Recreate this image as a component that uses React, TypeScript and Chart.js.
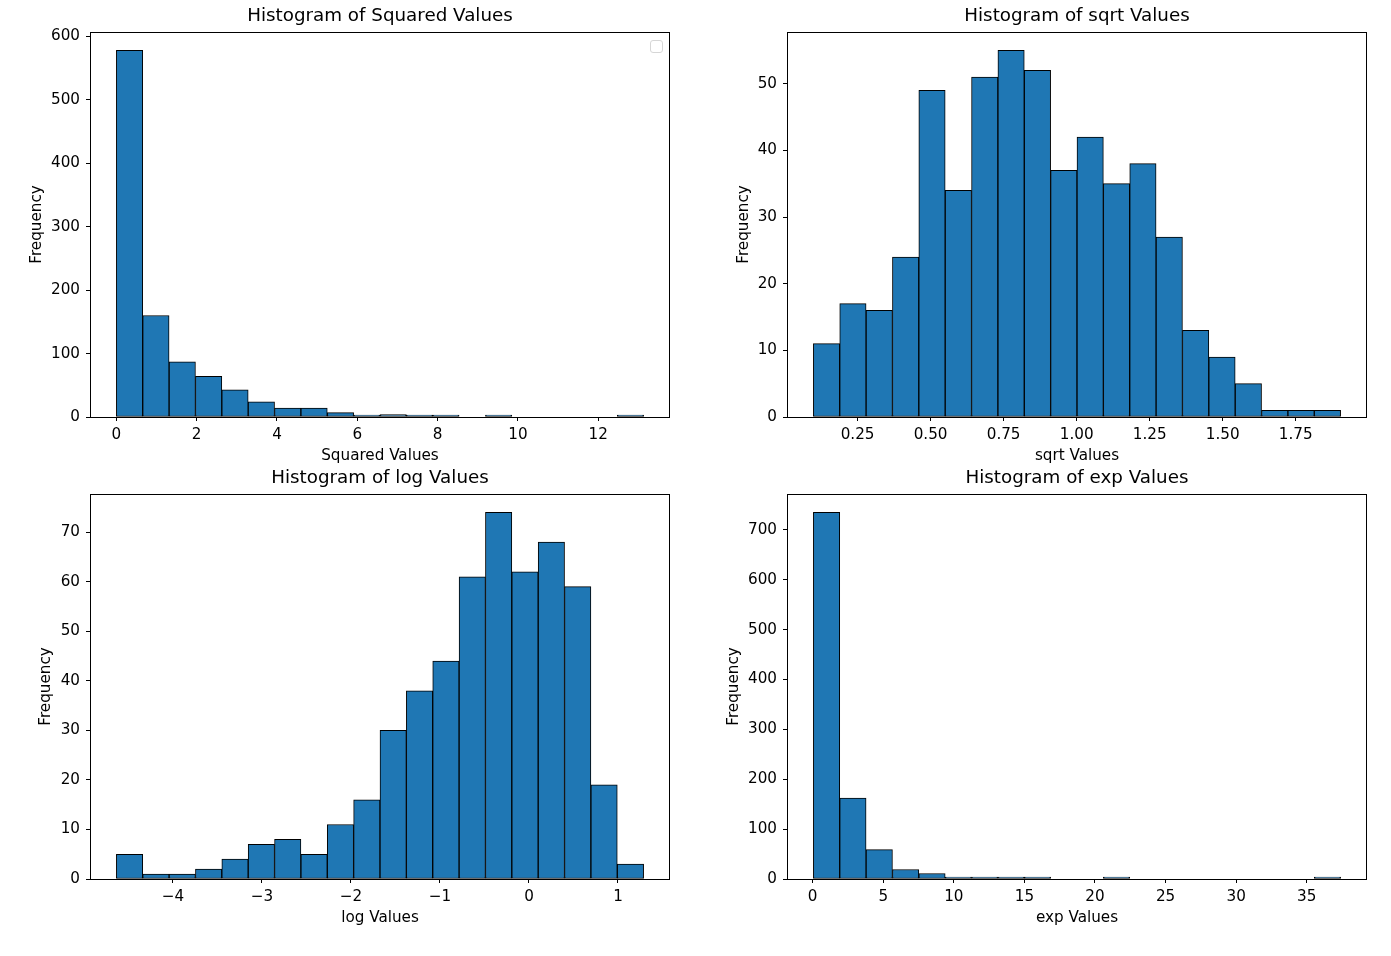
import React, { useEffect, useRef } from "react";
import { Chart, registerables } from "chart.js";

Chart.register(...registerables);

const FONT = "'DejaVu Sans', 'Liberation Sans', sans-serif";
const BAR_COLOR = "#1f77b4";
const TICK_SIZE = 15.2;
const TITLE_SIZE = 18.3;

// ---- data (20 bins each) ----
const squaredRange = [0, 13.13];
const squaredCounts = [578, 160, 87, 64, 43, 24, 14, 14, 7, 2, 4, 1, 1, 0, 1, 0, 0, 0, 0, 1];
const squaredXTicks = [0, 2, 4, 6, 8, 10, 12];
const squaredYTicks = [0, 100, 200, 300, 400, 500, 600];

const sqrtRange = [0.0985, 1.904];
const sqrtCounts = [11, 17, 16, 24, 49, 34, 51, 55, 52, 37, 42, 35, 38, 27, 13, 9, 5, 1, 1, 1];
const sqrtXTicks = [0.25, 0.5, 0.75, 1.0, 1.25, 1.5, 1.75];
const sqrtYTicks = [0, 10, 20, 30, 40, 50];

const logRange = [-4.635, 1.288];
const logCounts = [5, 1, 1, 2, 4, 7, 8, 5, 11, 16, 30, 38, 44, 61, 74, 62, 68, 59, 19, 3];
const logXTicks = [-4, -3, -2, -1, 0, 1];
const logYTicks = [0, 10, 20, 30, 40, 50, 60, 70];

const expRange = [0.05, 37.4];
const expCounts = [735, 162, 59, 19, 11, 4, 4, 2, 2, 0, 0, 1, 0, 0, 0, 0, 0, 0, 0, 1];
const expXTicks = [0, 5, 10, 15, 20, 25, 30, 35];
const expYTicks = [0, 100, 200, 300, 400, 500, 600, 700];

type PanelDef = {
  title: string;
  xLabel: string;
  range: number[];
  counts: number[];
  xTicks: number[];
  yTicks: number[];
  decimals: number;
  legendBox: boolean;
  left: number;
  top: number;
  yTitleX: number;
};

const panels: PanelDef[] = [
  { title: "Histogram of Squared Values", xLabel: "Squared Values", range: squaredRange, counts: squaredCounts, xTicks: squaredXTicks, yTicks: squaredYTicks, decimals: 0, legendBox: true, left: 0, top: 0, yTitleX: 35 },
  { title: "Histogram of sqrt Values", xLabel: "sqrt Values", range: sqrtRange, counts: sqrtCounts, xTicks: sqrtXTicks, yTicks: sqrtYTicks, decimals: 2, legendBox: false, left: 697, top: 0, yTitleX: 45 },
  { title: "Histogram of log Values", xLabel: "log Values", range: logRange, counts: logCounts, xTicks: logXTicks, yTicks: logYTicks, decimals: 0, legendBox: false, left: 0, top: 462, yTitleX: 44 },
  { title: "Histogram of exp Values", xLabel: "exp Values", range: expRange, counts: expCounts, xTicks: expXTicks, yTicks: expYTicks, decimals: 0, legendBox: false, left: 697, top: 462, yTitleX: 35 },
];

const CW = 690;
const CH = 470;
const AX_LEFT = 90;
const AX_TOP = 32;
const AX_BOTTOM = 417;
const AX_RIGHT = 670;

function fmt(v: number, decimals: number): string {
  const s = Math.abs(v).toFixed(decimals);
  return v < 0 ? "\u2212" + s : s;
}

const framePlugin = {
  id: "frame",
  afterDraw(chart: any) {
    const { ctx, chartArea } = chart;
    ctx.save();
    ctx.strokeStyle = "#000";
    ctx.lineWidth = 1;
    ctx.strokeRect(
      Math.round(chartArea.left) + 0.5,
      Math.round(chartArea.top) + 0.5,
      Math.round(chartArea.right - chartArea.left) - 1,
      Math.round(chartArea.bottom - chartArea.top)
    );
    const opts = chart.options.plugins.frame || {};
    if (opts.legendBox) {
      const w = 12, h = 12, r = 2.5;
      const x = chartArea.right - 7.5 - w;
      const y = chartArea.top + 8.5;
      ctx.beginPath();
      ctx.moveTo(x + r, y);
      ctx.lineTo(x + w - r, y);
      ctx.quadraticCurveTo(x + w, y, x + w, y + r);
      ctx.lineTo(x + w, y + h - r);
      ctx.quadraticCurveTo(x + w, y + h, x + w - r, y + h);
      ctx.lineTo(x + r, y + h);
      ctx.quadraticCurveTo(x, y + h, x, y + h - r);
      ctx.lineTo(x, y + r);
      ctx.quadraticCurveTo(x, y, x + r, y);
      ctx.closePath();
      ctx.fillStyle = "rgba(255,255,255,0.8)";
      ctx.fill();
      ctx.strokeStyle = "#d6d6d6";
      ctx.stroke();
    }
    ctx.restore();
  },
};

function HistPanel({ p }: { p: PanelDef }) {
  const ref = useRef<HTMLCanvasElement | null>(null);
  useEffect(() => {
    if (!ref.current) return;
    const [lo, hi] = p.range;
    const w = (hi - lo) / p.counts.length;
    // empty bins are not drawn (as in the reference)
    const data = p.counts.map((c, i) => ({ x: lo + (i + 0.5) * w, y: c === 0 ? null : c }));
    const span = hi - lo;
    const xMin = lo - 0.05 * span;
    const xMax = hi + 0.05 * span;
    const yMax = Math.max(...p.counts) * 1.05;
    const tickFont = { family: FONT, size: TICK_SIZE, lineHeight: 1.2 };
    const titleLH = TITLE_SIZE * 1.2;
    const chart = new Chart(ref.current, {
      type: "bar",
      data: {
        datasets: [
          {
            data,
            backgroundColor: BAR_COLOR,
            borderColor: "#000",
            borderWidth: 1,
            borderSkipped: false,
            barPercentage: 1,
            categoryPercentage: 1,
            minBarLength: 2,
          } as any,
        ],
      },
      options: {
        animation: false,
        responsive: false,
        devicePixelRatio: 1,
        layout: { padding: { left: 0, right: CW - AX_RIGHT, top: 0, bottom: 0 } },
        plugins: {
          legend: { display: false },
          tooltip: { enabled: false },
          title: {
            display: true,
            text: p.title,
            fullSize: false,
            color: "#000",
            font: { family: FONT, size: TITLE_SIZE, weight: "normal", lineHeight: 1.2 },
            padding: { top: 16 - titleLH / 2, bottom: AX_TOP - (16 - titleLH / 2) - titleLH },
          },
          frame: { legendBox: p.legendBox },
        } as any,
        scales: {
          x: {
            type: "linear",
            min: xMin,
            max: xMax,
            offset: false,
            grid: { display: true, drawOnChartArea: false, drawTicks: true, tickLength: 4, color: "#000", offset: false },
            border: { display: false },
            ticks: {
              font: tickFont,
              color: "#000",
              padding: 5,
              autoSkip: false,
              maxRotation: 0,
              callback: (v: any) => fmt(Number(v), p.decimals),
            },
            afterBuildTicks: (scale: any) => {
              scale.ticks = p.xTicks.map((v) => ({ value: v }));
            },
            afterFit: (scale: any) => {
              scale.height = CH - AX_BOTTOM;
            },
            title: {
              display: true,
              text: p.xLabel,
              color: "#000",
              font: { family: FONT, size: TICK_SIZE, lineHeight: 1.2 },
              padding: { top: 0, bottom: CH - 456 - TICK_SIZE * 0.6 },
            },
          },
          y: {
            type: "linear",
            min: 0,
            max: yMax,
            grid: { display: true, drawOnChartArea: false, drawTicks: true, tickLength: 4, color: "#000" },
            border: { display: false },
            ticks: {
              font: tickFont,
              color: "#000",
              padding: 6,
              autoSkip: false,
              callback: (v: any) => fmt(Number(v), 0),
            },
            afterBuildTicks: (scale: any) => {
              scale.ticks = p.yTicks.map((v) => ({ value: v }));
            },
            afterFit: (scale: any) => {
              scale.width = AX_LEFT;
            },
            title: {
              display: true,
              text: "Frequency",
              color: "#000",
              font: { family: FONT, size: TICK_SIZE, lineHeight: 1.2 },
              padding: { top: p.yTitleX - TICK_SIZE * 0.6 + 2, bottom: 0 },
            },
          },
        },
      } as any,
      plugins: [framePlugin],
    });
    return () => chart.destroy();
  }, [p]);
  return (
    <canvas
      ref={ref}
      width={CW}
      height={CH}
      style={{ position: "absolute", left: p.left, top: p.top, width: CW, height: CH }}
    />
  );
}

export default function App() {
  return (
    <div style={{ width: 1391, height: 956, background: "#fff" }}>
      {panels.map((p, i) => (
        <HistPanel key={i} p={p} />
      ))}
    </div>
  );
}
